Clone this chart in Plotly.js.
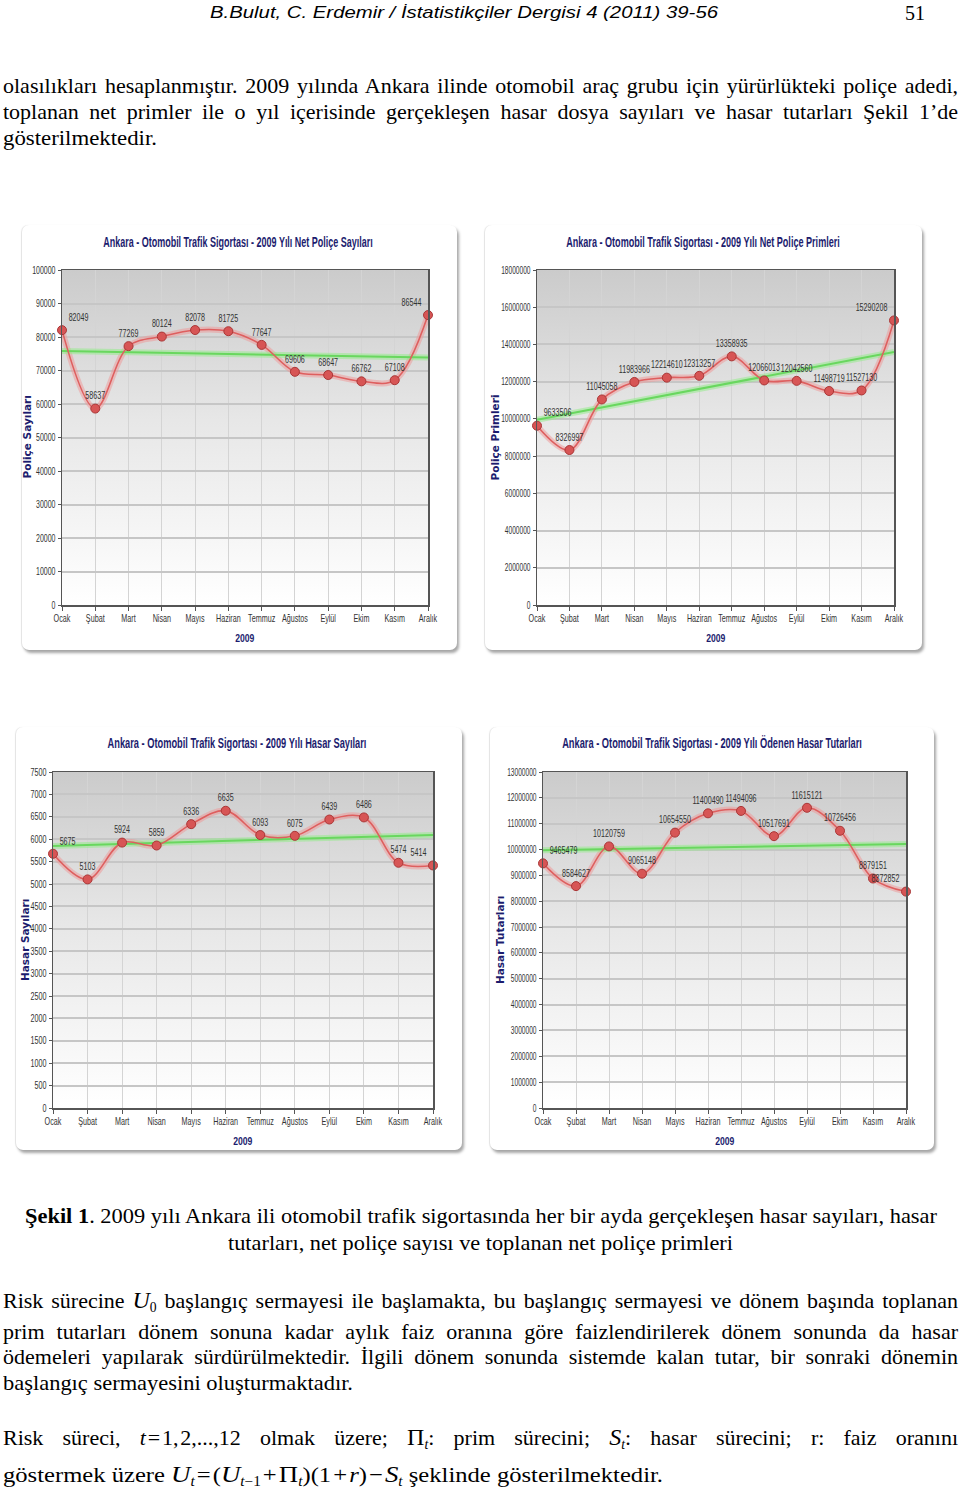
<!DOCTYPE html>
<html>
<head>
<meta charset="utf-8">
<script src="https://cdn.plot.ly/plotly-3.0.1.min.js"></script>
<style>
  html, body { margin:0; padding:0; background:#fff; }
  body { width:960px; height:1491px; position:relative; overflow:hidden; }
  .ln { position:absolute; line-height:26px; white-space:nowrap; color:#000;
        font-family:"Liberation Serif","Times New Roman",serif; font-size:22px; }
  .ln > span { display:inline-block; white-space:nowrap; transform-origin:left center; }
  .hd { font-family:"Liberation Sans",Arial,sans-serif; font-style:italic; font-size:17px; }
  .ln i { font-style:italic; }
  .ln sub { font-size:0.62em; vertical-align:-0.3em; line-height:0; }
  .big { font-size:24px; }
  .panel { position:absolute; background:#fff; border-radius:7px;
           box-shadow: 2px 3px 3px rgba(0,0,0,0.35), -1px 0 1px rgba(0,0,0,0.10); }
</style>
</head>
<body>

<div class="ln hd" style="left:210px;top:0px" data-w="508"><span>B.Bulut, C. Erdemir / İstatistikçiler Dergisi 4 (2011) 39-56</span></div>
<div class="ln" style="left:905px;top:0px;font-size:20px" data-w="20"><span>51</span></div>

<div class="ln" style="left:3px;top:73px" data-w="955" data-m="j"><span>olasılıkları hesaplanmıştır. 2009 yılında Ankara ilinde otomobil araç grubu için yürürlükteki poliçe adedi,</span></div>
<div class="ln" style="left:3px;top:99px" data-w="955" data-m="j"><span>toplanan net primler ile o yıl içerisinde gerçekleşen hasar dosya sayıları ve hasar tutarları Şekil 1’de</span></div>
<div class="ln" style="left:3px;top:125px" data-w="154"><span>gösterilmektedir.</span></div>

<div class="panel" id="p1" style="left:22px;top:225px;width:435px;height:425px"><div id="c1"></div></div>
<div class="panel" id="p2" style="left:485px;top:225px;width:437px;height:425px"><div id="c2"></div></div>
<div class="panel" id="p3" style="left:16px;top:727px;width:446px;height:423px"><div id="c3"></div></div>
<div class="panel" id="p4" style="left:490px;top:727px;width:444px;height:423px"><div id="c4"></div></div>

<div class="ln" style="left:25px;top:1203px" data-w="912"><span><b>Şekil 1</b>. 2009 yılı Ankara ili otomobil trafik sigortasında her bir ayda gerçekleşen hasar sayıları, hasar</span></div>
<div class="ln" style="left:228px;top:1230px" data-w="505"><span>tutarları, net poliçe sayısı ve toplanan net poliçe primleri</span></div>

<div class="ln" style="left:3px;top:1287px" data-w="955" data-m="j"><span>Risk sürecine <i class="big">U</i><sub>0</sub> başlangıç sermayesi ile başlamakta, bu başlangıç sermayesi ve dönem başında toplanan</span></div>
<div class="ln" style="left:3px;top:1319px" data-w="955" data-m="j"><span>prim tutarları dönem sonuna kadar aylık faiz oranına göre faizlendirilerek dönem sonunda da hasar</span></div>
<div class="ln" style="left:3px;top:1344px" data-w="955" data-m="j"><span>ödemeleri yapılarak sürdürülmektedir. İlgili dönem sonunda sistemde kalan tutar, bir sonraki dönemin</span></div>
<div class="ln" style="left:3px;top:1370px" data-w="350"><span>başlangıç sermayesini oluşturmaktadır.</span></div>

<div class="ln" style="left:3px;top:1424px" data-w="955" data-m="j"><span>Risk süreci, <i>t</i>&#8202;=&#8202;1,&#8202;2,...,12 olmak üzere; <span class="big">Π</span><sub><i>t</i></sub>: prim sürecini; <i class="big">S</i><sub><i>t</i></sub>: hasar sürecini; r: faiz oranını</span></div>
<div class="ln" style="left:3px;top:1461px" data-w="660"><span>göstermek üzere <i class="big">U</i><sub><i>t</i></sub>&#8202;=&#8202;(<i class="big">U</i><sub><i>t</i>−1</sub>&#8202;+&#8202;<span class="big">Π</span><sub><i>t</i></sub>)(1&#8202;+&#8202;<i>r</i>)&#8202;−&#8202;<i class="big">S</i><sub><i>t</i></sub> şeklinde gösterilmektedir.</span></div>

<script>
// ---------------- DATA ----------------
const months = ["Ocak","Şubat","Mart","Nisan","Mayıs","Haziran","Temmuz","Ağustos","Eylül","Ekim","Kasım","Aralık"];

const policeSayilari  = [82049, 58637, 77269, 80124, 82078, 81725, 77647, 69606, 68647, 66762, 67108, 86544];
const policePrimleri  = [9633506, 8326997, 11045058, 11983966, 12214610, 12313257, 13358935, 12066013, 12042560, 11498719, 11527130, 15290208];
const hasarSayilari   = [5675, 5103, 5924, 5859, 6336, 6635, 6093, 6075, 6439, 6486, 5474, 5414];
const hasarTutarlari  = [9465479, 8584627, 10120759, 9065148, 10654550, 11400490, 11494096, 10517691, 11615121, 10726456, 8879151, 8372852];

// trend line end values (Ocak, Aralık)
const trendPoliceSayilari = [75800, 73900];
const trendPolicePrimleri = [9950000, 13600000];
const trendHasarSayilari  = [5850, 6095];
const trendHasarTutarlari = [9970000, 10210000];

const titles = [
  "Ankara - Otomobil Trafik Sigortası - 2009 Yılı Net Poliçe Sayıları",
  "Ankara - Otomobil Trafik Sigortası - 2009 Yılı Net Poliçe Primleri",
  "Ankara - Otomobil Trafik Sigortası - 2009 Yılı Hasar Sayıları",
  "Ankara - Otomobil Trafik Sigortası - 2009 Yılı Ödenen Hasar Tutarları"
];
const yTitles = ["Poliçe Sayıları", "Poliçe Primleri", "Hasar Sayıları", "Hasar Tutarları"];
const xTitle = "2009";

// ---------------- STYLE ----------------
const SANS = '"Liberation Sans",Arial,sans-serif';
const WIDE = '"DejaVu Sans",Verdana,sans-serif';
const NAVY = '#1c1c6e';

const gradSvg = "<svg xmlns='http://www.w3.org/2000/svg' width='10' height='100' viewBox='0 0 10 100' preserveAspectRatio='none'>" +
  "<defs><linearGradient id='g' x1='0' y1='0' x2='0' y2='1'>" +
  "<stop offset='0' stop-color='#cbcbcb'/><stop offset='0.45' stop-color='#e7e7e7'/><stop offset='1' stop-color='#ffffff'/>" +
  "</linearGradient></defs><rect width='10' height='100' fill='url(#g)'/></svg>";
const gradURI = "data:image/svg+xml;charset=utf-8," + encodeURIComponent(gradSvg);

function textPos(n) {
  const p = new Array(n).fill("top center");
  p[0] = "top right";
  p[n - 1] = "top left";
  return p;
}

// narrow the chart's SVG texts horizontally (the original uses a condensed face)
function squeeze(gd, query, s) {
  gd.querySelectorAll(query).forEach(el => {
    const X = parseFloat(el.getAttribute("x")) || 0;
    const t = el.getAttribute("transform") || "";
    el.setAttribute("transform", t + " translate(" + X + ",0) scale(" + s + ",1) translate(" + (-X) + ",0)");
  });
}

function makeChart(id, cfg) {
  const W = cfg.w, H = cfg.h;
  const m = cfg.margin;
  const xs = months;
  const traces = [
    { x: xs, y: cfg.values, mode: "lines", hoverinfo: "skip",
      line: { color: "rgba(240,150,150,0.5)", width: 6, shape: "spline", smoothing: 1 }, cliponaxis: false },
    { x: [xs[0], xs[xs.length - 1]], y: cfg.trend, mode: "lines", hoverinfo: "skip",
      line: { color: "rgba(150,235,140,0.55)", width: 6 }, cliponaxis: false },
    { x: [xs[0], xs[xs.length - 1]], y: cfg.trend, mode: "lines", hoverinfo: "skip",
      line: { color: "rgb(105,215,95)", width: 2 }, cliponaxis: false },
    { x: xs, y: cfg.values, mode: "lines+markers+text",
      text: cfg.values.map(v => String(v)), textposition: textPos(xs.length),
      textfont: { family: SANS, size: 10.5, color: "#333" },
      line: { color: "rgb(222,95,95)", width: 1.6, shape: "spline", smoothing: 1 },
      marker: { size: 9, color: "rgb(215,85,85)", line: { color: "rgb(170,55,55)", width: 1 } },
      cliponaxis: false }
  ];
  const layout = {
    width: W, height: H,
    margin: { l: m.l, r: m.r, t: m.t, b: m.b, pad: 0 },
    paper_bgcolor: "rgba(0,0,0,0)",
    plot_bgcolor: "rgba(0,0,0,0)",
    showlegend: false,
    title: { text: cfg.title, x: cfg.titleX / W, xref: "container", xanchor: "center",
             y: 1 - cfg.titleY / H, yref: "container", yanchor: "middle",
             font: { family: SANS, size: 15.5, color: NAVY, weight: "bold" } },
    xaxis: { type: "category", categoryorder: "array", categoryarray: xs,
             range: [0, xs.length - 1], showgrid: true, gridcolor: "#d4d4d4", gridwidth: 1,
             showline: true, linecolor: "#555", linewidth: 1.5, mirror: true,
             ticks: "outside", ticklen: 4, tickcolor: "#555", tickangle: 0,
             tickfont: { family: SANS, size: 10, color: "#333" }, zeroline: false, fixedrange: true },
    yaxis: { range: [0, cfg.yMax], tick0: 0, dtick: cfg.dtick, tickformat: "d",
             showgrid: true, gridcolor: "#c6c6c6", gridwidth: 2,
             showline: true, linecolor: "#555", linewidth: 1.5, mirror: true,
             ticks: "outside", ticklen: 3, tickcolor: "#555",
             tickfont: { family: SANS, size: 10, color: "#333" }, zeroline: false, fixedrange: true },
    images: [{ source: gradURI, xref: "paper", yref: "paper", x: 0, y: 1, sizex: 1, sizey: 1,
               sizing: "stretch", xanchor: "left", yanchor: "top", layer: "below" }],
    annotations: [
      { text: "<b>" + cfg.yTitle + "</b>", xref: "paper", yref: "paper", x: 0, y: 0.5,
        xanchor: "center", yanchor: "middle", xshift: cfg.yTitleX - m.l, textangle: -90, showarrow: false,
        font: { family: WIDE, size: 10.5, color: NAVY } },
      { text: "<b>" + xTitle + "</b>", xref: "paper", yref: "paper", x: 0.5, y: 0,
        xanchor: "center", yanchor: "middle", yshift: -33, showarrow: false,
        font: { family: SANS, size: 11.5, color: NAVY } }
    ]
  };
  return Plotly.newPlot(id, traces, layout, { staticPlot: true, displayModeBar: false }).then(gd => {
    squeeze(gd, ".xtick text", 0.72);
    squeeze(gd, ".ytick text", cfg.yS);
    squeeze(gd, ".textpoint text", 0.68);
    const tt = gd.querySelector(".gtitle");
    if (tt) {
      const w = tt.getBBox().width;
      if (w) squeeze(gd, ".gtitle", cfg.titleW / w);
    }
    gd.querySelectorAll(".annotation-text").forEach(el => {
      if ((el.textContent || "") === xTitle) {
        const X = parseFloat(el.getAttribute("x")) || 0;
        el.setAttribute("transform", (el.getAttribute("transform") || "") + " translate(" + X + ",0) scale(0.75,1) translate(" + (-X) + ",0)");
      }
    });
    return gd;
  });
}

const charts = [
  makeChart("c1", { w: 435, h: 425, margin: { l: 40, r: 29, t: 45, b: 45 },
    values: policeSayilari, trend: trendPoliceSayilari, yMax: 100000, dtick: 10000, yS: 0.70,
    title: titles[0], titleX: 216, titleY: 17, titleW: 270, yTitle: yTitles[0], yTitleX: 4 }),
  makeChart("c2", { w: 437, h: 425, margin: { l: 52, r: 28, t: 45, b: 45 },
    values: policePrimleri, trend: trendPolicePrimleri, yMax: 18000000, dtick: 2000000, yS: 0.66,
    title: titles[1], titleX: 218, titleY: 17, titleW: 274, yTitle: yTitles[1], yTitleX: 9 }),
  makeChart("c3", { w: 446, h: 423, margin: { l: 37, r: 29, t: 45, b: 42 },
    values: hasarSayilari, trend: trendHasarSayilari, yMax: 7500, dtick: 500, yS: 0.72,
    title: titles[2], titleX: 221, titleY: 16, titleW: 259, yTitle: yTitles[2], yTitleX: 9 }),
  makeChart("c4", { w: 444, h: 423, margin: { l: 53, r: 28, t: 45, b: 42 },
    values: hasarTutarlari, trend: trendHasarTutarlari, yMax: 13000000, dtick: 1000000, yS: 0.66,
    title: titles[3], titleX: 222, titleY: 16, titleW: 300, yTitle: yTitles[3], yTitleX: 10 })
];

// ---------------- fit text lines ----------------
function fitLines() {
  document.querySelectorAll(".ln[data-w]").forEach(el => {
    const span = el.firstElementChild;
    const target = +el.dataset.w;
    const nat = span.getBoundingClientRect().width;
    if (!nat) return;
    if (el.dataset.m === "j" && nat < target) {
      const n = (span.textContent.match(/ /g) || []).length;
      if (n) span.style.wordSpacing = ((target - nat) / n) + "px";
    } else {
      span.style.transform = "scaleX(" + (target / nat) + ")";
    }
  });
}
if (document.fonts && document.fonts.ready) document.fonts.ready.then(fitLines); else fitLines();
</script>
</body>
</html>
